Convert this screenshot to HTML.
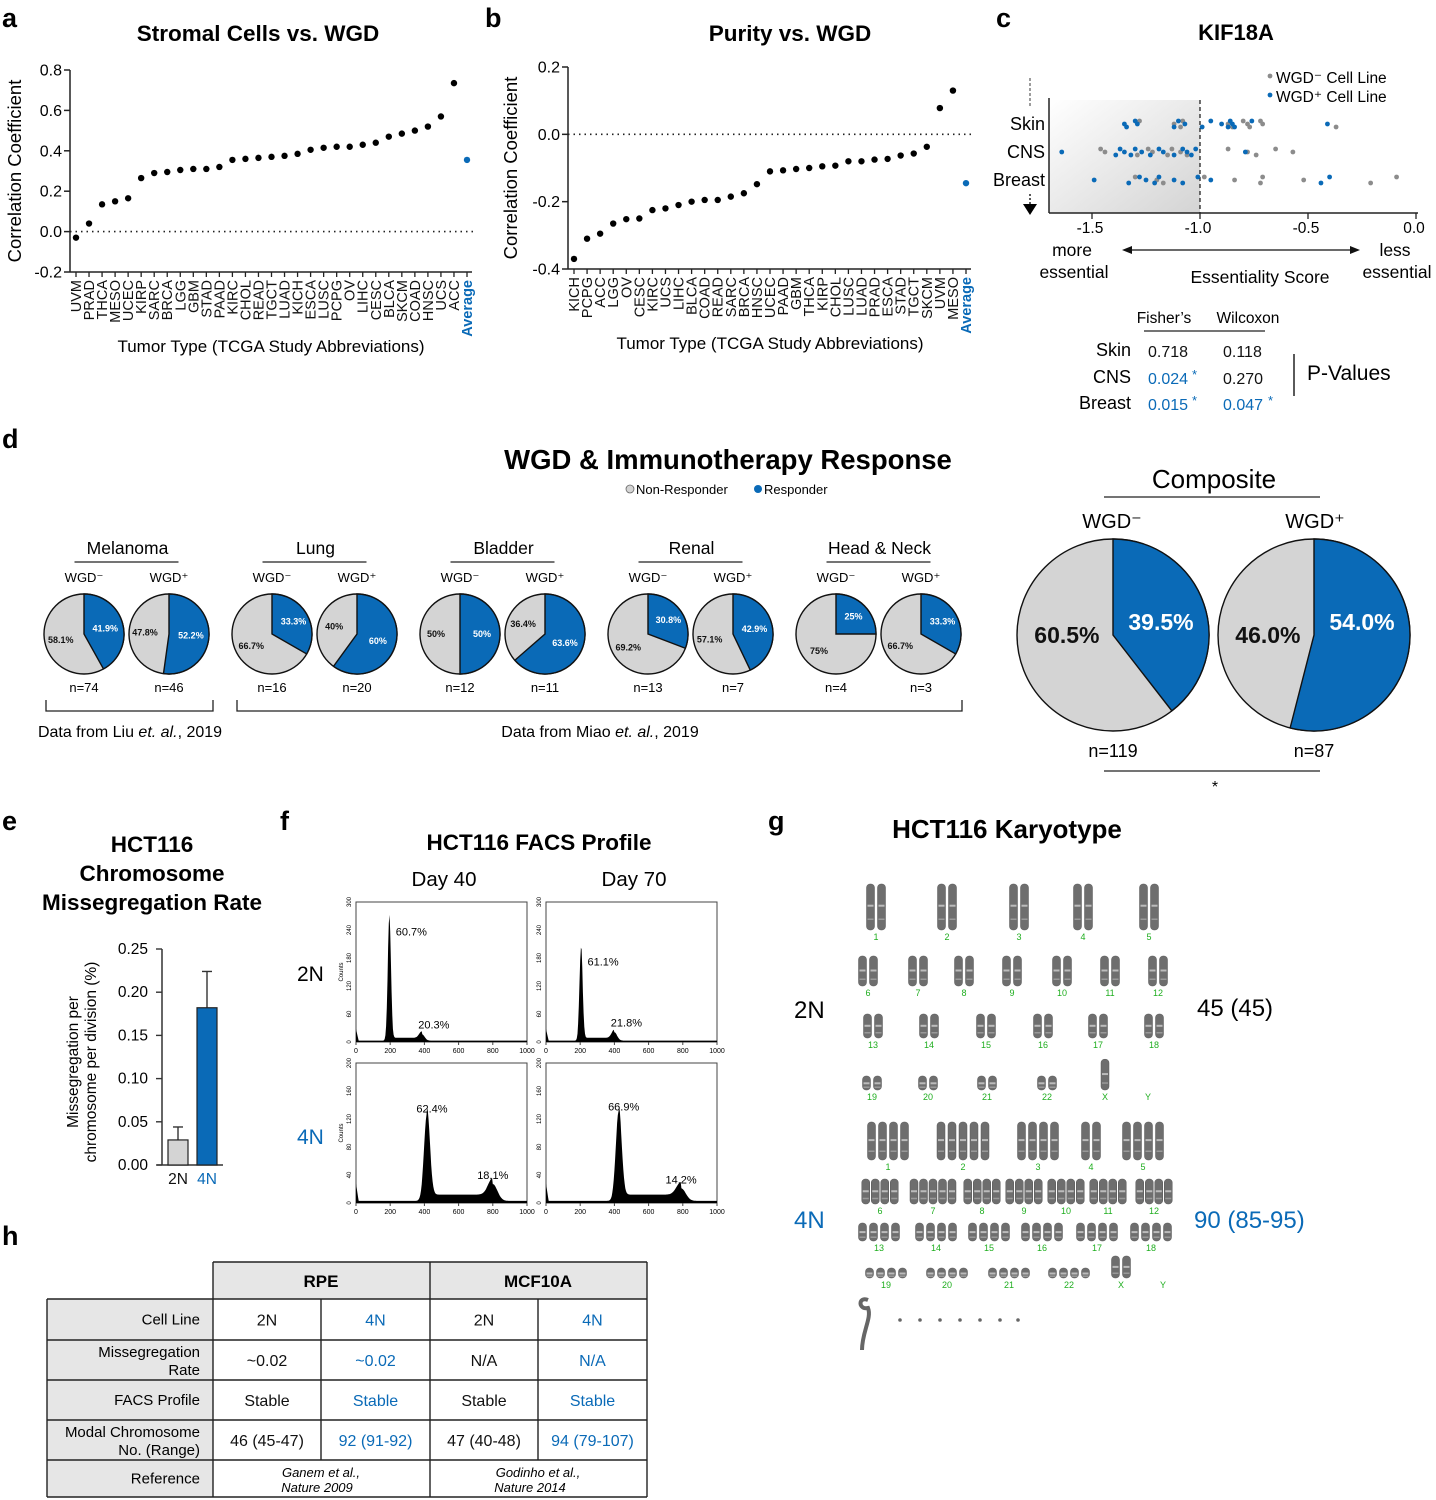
<!DOCTYPE html>
<html><head><meta charset="utf-8"><style>
html,body{margin:0;padding:0;background:#fff;}
svg{display:block;font-family:"Liberation Sans",Arial,sans-serif;}
</style></head><body>
<svg id="fig" xmlns="http://www.w3.org/2000/svg" width="1436" height="1500" viewBox="0 0 1436 1500">
<defs><linearGradient id="shade" x1="0" y1="0" x2="1" y2="1"><stop offset="0" stop-color="#ffffff"/><stop offset="1" stop-color="#d4d4d4"/></linearGradient></defs>
<g font-weight="bold" font-size="27">
<text x="2" y="27">a</text>
<text x="485" y="27">b</text>
<text x="996" y="27">c</text>
<text x="2" y="448">d</text>
<text x="2" y="830">e</text>
<text x="280" y="830">f</text>
<text x="768" y="830">g</text>
<text x="2" y="1245">h</text>
</g>
<g id="pa"></g>
<g id="pb"></g>
<g id="pc"></g>
<g id="pd"></g>
<g id="pe"></g>
<g id="pf"></g>
<g id="pg"></g>
<g id="ph"></g>
</svg>
<script>
const NS="http://www.w3.org/2000/svg";
const BLUE="#0a6ab7";
function mk(tag,parent,attrs,txt){const e=document.createElementNS(NS,tag);for(const k in attrs)e.setAttribute(k,attrs[k]);if(txt!==undefined)e.textContent=txt;parent.appendChild(e);return e;}

// ---- Panel a data ----
const aCategories=["UVM","PRAD","THCA","MESO","UCEC","KIRP","SARC","BRCA","LGG","GBM","STAD","PAAD","KIRC","CHOL","READ","TGCT","LUAD","KICH","ESCA","LUSC","PCPG","OV","LIHC","CESC","BLCA","SKCM","COAD","HNSC","UCS","ACC","Average"];
const aValues=[-0.03,0.04,0.135,0.15,0.165,0.265,0.29,0.295,0.305,0.31,0.31,0.32,0.355,0.36,0.365,0.37,0.375,0.385,0.405,0.415,0.42,0.42,0.43,0.44,0.47,0.485,0.5,0.52,0.57,0.735,0.355];
const aTicks=[0.8,0.6,0.4,0.2,0.0,-0.2];
const aTickLabels=["0.8","0.6","0.4","0.2","0.0","-0.2"];
// ---- Panel b data ----
const bCategories=["KICH","PCPG","ACC","LGG","OV","CESC","KIRC","UCS","LIHC","BLCA","COAD","READ","SARC","BRCA","HNSC","UCEC","PAAD","GBM","THCA","KIRP","CHOL","LUSC","LUAD","PRAD","ESCA","STAD","TGCT","SKCM","UVM","MESO","Average"];
const bValues=[-0.37,-0.31,-0.295,-0.265,-0.252,-0.25,-0.225,-0.22,-0.21,-0.2,-0.195,-0.195,-0.185,-0.175,-0.148,-0.11,-0.107,-0.103,-0.1,-0.095,-0.093,-0.08,-0.08,-0.075,-0.073,-0.063,-0.057,-0.037,0.078,0.13,-0.145];
const bTicks=[0.2,0.0,-0.2,-0.4];
const bTickLabels=["0.2","0.0","-0.2","-0.4"];

function dotChart(g,cfg,cats,vals,ticks,tlabels){
  const y=v=>cfg.y0+(cfg.vmax-v)/(cfg.vmax-cfg.vmin)*(cfg.y1-cfg.y0);
  const x=i=>cfg.x0+i*(cfg.x1-cfg.x0)/(cats.length-1);
  mk("text",g,{x:cfg.tx,y:41,"font-size":22.5,"font-weight":"bold","text-anchor":"middle",},cfg.title);
  mk("line",g,{x1:cfg.ax,y1:cfg.y0,x2:cfg.ax,y2:cfg.y1,stroke:"#222","stroke-width":1.5,});
  mk("line",g,{x1:cfg.ax,y1:cfg.y1,x2:cfg.x1+5,y2:cfg.y1,stroke:"#222","stroke-width":1.5,});
  mk("line",g,{x1:cfg.ax,y1:y(0),x2:cfg.x1+8,y2:y(0),stroke:"#222","stroke-width":1.6,"stroke-dasharray":"1.5 4",});
  ticks.forEach((t,i)=>{
    const tk=mk("line",g,{x1:cfg.ax-6,y1:y(t),x2:cfg.ax,y2:y(t),stroke:"#222","stroke-width":1.5});
    
    
    const tl=mk("text",g,{x:cfg.ax-8,y:y(t)+5.5,"font-size":16,"text-anchor":"end"},tlabels[i]);
    
    
  });
  mk("text",g,{x:0,y:0,"font-size":18.5,"text-anchor":"middle",transform:`translate(${cfg.ylx},${(cfg.y0+cfg.y1)/2}) rotate(-90)`,},"Correlation Coefficient");
  cats.forEach((c,i)=>{
    const avg=c==="Average";
    const tk=mk("line",g,{x1:x(i),y1:cfg.y1,x2:x(i),y2:cfg.y1+5,stroke:"#222","stroke-width":1.3});
    
    
    const t=mk("text",g,{x:0,y:0,"font-size":14.5,"text-anchor":"end",fill:avg?BLUE:"#111","font-weight":avg?"bold":"normal",transform:`translate(${x(i)+5},${cfg.y1+8}) rotate(-90)`},c);
    
    
    const d=mk("circle",g,{cx:x(i),cy:y(vals[i]),r:3.2,fill:avg?BLUE:"#000"});
    
    
  });
  mk("text",g,{x:cfg.xtx,y:cfg.xty,"font-size":17,"text-anchor":"middle",},"Tumor Type (TCGA Study Abbreviations)");
}
dotChart(document.getElementById("pa"),{x0:76,x1:467,ax:70,y0:70,y1:272,vmax:0.8,vmin:-0.2,title:"Stromal Cells vs. WGD",tx:258,ylx:21,xtx:271,xty:352},aCategories,aValues,aTicks,aTickLabels);
dotChart(document.getElementById("pb"),{x0:574,x1:966,ax:568,y0:67,y1:269,vmax:0.2,vmin:-0.4,title:"Purity vs. WGD",tx:790,ylx:517,xtx:770,xty:349},bCategories,bValues,bTicks,bTickLabels);

// ---- Panel c data ----
const cRows=["Skin","CNS","Breast"];
const cGray=[[-1.28,-1.12,-1.09,-1.08,-0.87,-0.85,-0.8,-0.78,-0.77,-0.72,-0.71,-0.37],
 [-1.46,-1.44,-1.29,-1.24,-1.22,-1.15,-1.13,-1.09,-1.06,-0.87,-0.78,-0.74,-0.65,-0.57],
 [-1.3,-1.2,-1.17,-0.98,-0.84,-0.72,-0.71,-0.52,-0.21,-0.09]];
const cBlue=[[-1.35,-1.34,-1.3,-1.29,-1.12,-1.1,-1.07,-0.99,-0.95,-0.9,-0.87,-0.86,-0.85,-0.84,-0.76,-0.41],
 [-1.64,-1.39,-1.37,-1.35,-1.32,-1.3,-1.27,-1.23,-1.19,-1.17,-1.12,-1.08,-1.06,-1.04,-1.02,-0.79],
 [-1.49,-1.33,-1.28,-1.25,-1.21,-1.19,-1.12,-1.08,-1.01,-0.95,-0.44,-0.4]];
const cTicks=[-1.5,-1.0,-0.5,0.0];
const cTickLabels=["-1.5","-1.0","-0.5","0.0"];
(function(){
  const g=document.getElementById("pc");
  const x=v=>1200+(v+1.0)*216;
  const rowY=[124,152,180];
  mk("text",g,{x:1236,y:40,"font-size":22,"font-weight":"bold","text-anchor":"middle",},"KIF18A");
  mk("rect",g,{x:1049,y:100,width:151,height:113,fill:"url(#shade)",});
  mk("line",g,{x1:1049,y1:98,x2:1049,y2:213,stroke:"#222","stroke-width":1.5,});
  mk("line",g,{x1:1049,y1:213,x2:1418,y2:213,stroke:"#222","stroke-width":1.5,});
  mk("line",g,{x1:x(-1),y1:100,x2:x(-1),y2:213,stroke:"#222","stroke-width":1.3,"stroke-dasharray":"4 3",});
  mk("line",g,{x1:1030,y1:78,x2:1030,y2:106,stroke:"#666","stroke-width":1.3,"stroke-dasharray":"3 2",});
  mk("line",g,{x1:1030,y1:194,x2:1030,y2:204,stroke:"#222","stroke-width":1.5,"stroke-dasharray":"2 2",});
  mk("path",g,{d:"M1023,204 L1037,204 L1030,215 Z",fill:"#000",});
  cTicks.forEach((t,i)=>{
    const tk=mk("line",g,{x1:x(t),y1:213,x2:x(t),y2:219,stroke:"#222","stroke-width":1.3});
    
    
    const tl=mk("text",g,{x:x(t)-2,y:233,"font-size":15.5,"text-anchor":"middle"},cTickLabels[i]);
    
    
  });
  cRows.forEach((r,ri)=>{
    const t=mk("text",g,{x:1045,y:rowY[ri]+6,"font-size":18,"text-anchor":"end"},r);
    
    
    cGray[ri].forEach((v,i)=>{
      const d=mk("circle",g,{cx:x(v),cy:rowY[ri]+(i%3-1)*3,r:2.4,fill:"#8c8c8c"});
      
      
    });
    cBlue[ri].forEach((v,i)=>{
      const d=mk("circle",g,{cx:x(v),cy:rowY[ri]+((i+1)%3-1)*3,r:2.4,fill:BLUE});
      
      
    });
  });
  mk("circle",g,{cx:1270,cy:76,r:2.4,fill:"#8c8c8c",});
  mk("text",g,{x:1276,y:83,"font-size":15.5,},"WGD\u207B Cell Line");
  mk("circle",g,{cx:1270,cy:95,r:2.4,fill:BLUE,});
  mk("text",g,{x:1276,y:102,"font-size":15.5,},"WGD\u207A Cell Line");
  const L=[["more",1072,256],["essential",1074,278],["less",1395,256],["essential",1397,278],["Essentiality Score",1260,283]];
  L.forEach(l=>{const t=mk("text",g,{x:l[1],y:l[2],"font-size":17.5,"text-anchor":"middle"},l[0]);});
  mk("line",g,{x1:1126,y1:250,x2:1356,y2:250,stroke:"#111","stroke-width":1.3,});
  mk("path",g,{d:"M1122,250 L1132,246 L1132,254Z M1360,250 L1350,246 L1350,254Z",fill:"#111",});
  const tg=mk("g",g,{});
  mk("text",tg,{x:1164,y:323,"font-size":15.5,"text-anchor":"middle"},"Fisher\u2019s");
  mk("text",tg,{x:1248,y:323,"font-size":15.5,"text-anchor":"middle"},"Wilcoxon");
  mk("line",tg,{x1:1144,y1:331,x2:1265,y2:331,stroke:"#222","stroke-width":1.3});
  const rows=[["Skin","0.718","0.118",false,false,356],["CNS","0.024","0.270",true,false,383],["Breast","0.015","0.047",true,true,409]];
  rows.forEach(r=>{
    mk("text",tg,{x:1131,y:r[5],"font-size":18,"text-anchor":"end"},r[0]);
    mk("text",tg,{x:1148,y:r[5]+1,"font-size":16,fill:r[3]?BLUE:"#111"},r[1]);
    if(r[3])mk("text",tg,{x:1192,y:r[5]-4,"font-size":13,fill:BLUE},"*");
    mk("text",tg,{x:1223,y:r[5]+1,"font-size":16,fill:r[4]?BLUE:"#111"},r[2]);
    if(r[4])mk("text",tg,{x:1268,y:r[5]-4,"font-size":13,fill:BLUE},"*");
  });
  mk("line",tg,{x1:1294,y1:354,x2:1294,y2:396,stroke:"#222","stroke-width":1.5});
  mk("text",tg,{x:1307,y:380,"font-size":21},"P-Values");
})();

// ---- Panel d data ----
const dGroups=["Melanoma","Lung","Bladder","Renal","Head & Neck"];
const dRespNeg=[41.9,33.3,50,30.8,25];
const dRespPos=[52.2,60,63.6,42.9,33.3];
const dNNeg=[74,16,12,13,4];
const dNPos=[46,20,11,7,3];
const dComposite=[39.5,54.0];
const dCompositeN=[119,87];
function pie(g,cx,cy,r,pct,fs,name,composite){
  const gg=mk("g",g,{});
  
  
  mk("circle",gg,{cx:cx,cy:cy,r:r,fill:"#d4d4d4",stroke:"#111","stroke-width":1.4});
  const a=pct/100*2*Math.PI;
  const ex=cx+r*Math.sin(a),ey=cy-r*Math.cos(a);
  const large=pct>50?1:0;
  const sl=mk("path",gg,{d:`M${cx},${cy} L${cx},${cy-r} A${r},${r} 0 ${large} 1 ${ex},${ey} Z`,fill:BLUE,stroke:"#111","stroke-width":1.4});
  
  
  const fmt=v=>(Math.round(v*10)/10).toString();
  const lab=v=>(composite?v.toFixed(1):fmt(v))+"%";
  let bx,by,gx,gy;
  if(composite){bx=cx+0.5*r;by=cy-5;gx=cx-0.48*r;gy=cy+8;}
  else{
    const rb=r*(pct<35?0.62:0.55),rg=r*0.6;
    const ma=a/2, mg=a+(2*Math.PI-a)/2;
    bx=cx+rb*Math.sin(ma);by=cy-rb*Math.cos(ma)+fs/3;gx=cx+rg*Math.sin(mg);gy=cy-rg*Math.cos(mg)+fs/3;
  }
  mk("text",gg,{x:bx,y:by,"font-size":fs,"font-weight":"bold","text-anchor":"middle",fill:"#fff"},lab(pct));
  mk("text",gg,{x:gx,y:gy,"font-size":fs,"font-weight":"bold","text-anchor":"middle",fill:"#111"},lab(100-pct));
}
(function(){
  const g=document.getElementById("pd");
  mk("text",g,{x:728,y:469,"font-size":27.5,"font-weight":"bold","text-anchor":"middle",},"WGD & Immunotherapy Response");
  mk("circle",g,{cx:630,cy:489,r:4,fill:"#d4d4d4",stroke:"#666","stroke-width":0.8,});
  mk("text",g,{x:636,y:494,"font-size":13,},"Non-Responder");
  mk("circle",g,{cx:758,cy:489,r:4,fill:BLUE,});
  mk("text",g,{x:764,y:494,"font-size":13,},"Responder");
  dGroups.forEach((grp,i)=>{
    const c1=84+i*188,c2=169+i*188,mid=(c1+c2)/2;
    const t=mk("text",g,{x:mid+1,y:554,"font-size":17.5,"text-anchor":"middle"},grp);
    
    
    mk("line",g,{x1:mid-52,y1:562,x2:mid+52,y2:562,stroke:"#222","stroke-width":1.3});
    mk("text",g,{x:c1,y:582,"font-size":13,"text-anchor":"middle"},"WGD\u207B");
    mk("text",g,{x:c2,y:582,"font-size":13,"text-anchor":"middle"},"WGD\u207A");
    pie(g,c1,634,40,dRespNeg[i],9,"pie-wgd-neg",false);
    pie(g,c2,634,40,dRespPos[i],9,"pie-wgd-pos",false);
    mk("text",g,{x:c1,y:692,"font-size":13,"text-anchor":"middle"},"n="+dNNeg[i]);
    mk("text",g,{x:c2,y:692,"font-size":13,"text-anchor":"middle"},"n="+dNPos[i]);
  });
  mk("path",g,{d:"M46,700 V711 H213 V700",fill:"none",stroke:"#222","stroke-width":1.3,});
  mk("path",g,{d:"M237,700 V711 H962 V700",fill:"none",stroke:"#222","stroke-width":1.3,});
  const t1=mk("text",g,{x:130,y:737,"font-size":16,"text-anchor":"middle",});
  t1.innerHTML='Data from Liu <tspan font-style="italic">et. al.</tspan>, 2019';
  const t2=mk("text",g,{x:600,y:737,"font-size":16,"text-anchor":"middle",});
  t2.innerHTML='Data from Miao <tspan font-style="italic">et. al.</tspan>, 2019';
  mk("text",g,{x:1214,y:488,"font-size":26,"text-anchor":"middle",},"Composite");
  mk("line",g,{x1:1104,y1:497,x2:1320,y2:497,stroke:"#222","stroke-width":1.3});
  mk("text",g,{x:1112,y:528,"font-size":20,"text-anchor":"middle"},"WGD\u207B");
  mk("text",g,{x:1315,y:528,"font-size":20,"text-anchor":"middle"},"WGD\u207A");
  pie(g,1113,635,96,dComposite[0],23,"composite-pie-wgd-neg",true);
  pie(g,1314,635,96,dComposite[1],23,"composite-pie-wgd-pos",true);
  mk("text",g,{x:1113,y:757,"font-size":18,"text-anchor":"middle"},"n="+dCompositeN[0]);
  mk("text",g,{x:1314,y:757,"font-size":18,"text-anchor":"middle"},"n="+dCompositeN[1]);
  mk("line",g,{x1:1104,y1:771,x2:1320,y2:771,stroke:"#222","stroke-width":1.3});
  mk("text",g,{x:1215,y:792,"font-size":16,"text-anchor":"middle"},"*");
})();

// ---- Panel e data ----
const eCategories=["2N","4N"];
const eValues=[0.029,0.182];
const eErrors=[0.015,0.042];
const eTicks=[0,0.05,0.1,0.15,0.2,0.25];
const eTickLabels=["0.00","0.05","0.10","0.15","0.20","0.25"];
(function(){
  const g=document.getElementById("pe");
  const y=v=>1165-v/0.25*216;
  const bx=[168,197];
  ["HCT116","Chromosome","Missegregation Rate"].forEach((s,i)=>mk("text",g,{x:152,y:852+i*29,"font-size":22.5,"font-weight":"bold","text-anchor":"middle",},s));
  mk("line",g,{x1:162,y1:949,x2:162,y2:1165,stroke:"#333","stroke-width":1.5,});
  mk("line",g,{x1:157,y1:1165,x2:223,y2:1165,stroke:"#333","stroke-width":1.5,});
  eTicks.forEach((t,i)=>{
    const tk=mk("line",g,{x1:156,y1:y(t),x2:162,y2:y(t),stroke:"#333","stroke-width":1.4});
    
    
    const tl=mk("text",g,{x:148,y:y(t)+5,"font-size":15.5,"text-anchor":"end"},eTickLabels[i]);
    
    
  });
  mk("text",g,{x:0,y:0,"font-size":15.5,"text-anchor":"middle",transform:"translate(78,1062) rotate(-90)",},"Missegregation per");
  mk("text",g,{x:0,y:0,"font-size":15.5,"text-anchor":"middle",transform:"translate(96,1062) rotate(-90)",},"chromosome per division (%)");
  eCategories.forEach((c,i)=>{
    const e=mk("line",g,{x1:bx[i]+10,y1:y(eValues[i]),x2:bx[i]+10,y2:y(eValues[i]+eErrors[i]),stroke:"#333","stroke-width":1.4});
    
    
    mk("line",g,{x1:bx[i]+5,y1:y(eValues[i]+eErrors[i]),x2:bx[i]+15,y2:y(eValues[i]+eErrors[i]),stroke:"#333","stroke-width":1.4});
    const b=mk("rect",g,{x:bx[i],y:y(eValues[i]),width:20,height:1165-y(eValues[i]),fill:i?BLUE:"#d4d4d4",stroke:"#222","stroke-width":1.2});
    
    
    const t=mk("text",g,{x:bx[i]+10,y:1184,"font-size":15.5,"text-anchor":"middle",fill:i?BLUE:"#111"},c);
    
    
  });
})();

// ---- Panel f data: peaks [center(DNA content), height(counts)] ----
const fPanels=["2N Day 40","2N Day 70","4N Day 40","4N Day 70"];
const fPeak1Center=[195,205,415,425];
const fPeak1Height=[265,200,125,128];
const fPeak2Center=[385,400,800,790];
const fPeak2Height=[14,18,24,18];
const fYMax=[300,300,200,200];
const fLabels1=["60.7%","61.1%","62.4%","66.9%"];
const fLabels2=["20.3%","21.8%","18.1%","14.2%"];
(function(){
  const g=document.getElementById("pf");
  mk("text",g,{x:539,y:850,"font-size":22.5,"font-weight":"bold","text-anchor":"middle",},"HCT116 FACS Profile");
  mk("text",g,{x:444,y:886,"font-size":20.5,"text-anchor":"middle",},"Day 40");
  mk("text",g,{x:634,y:886,"font-size":20.5,"text-anchor":"middle",},"Day 70");
  mk("text",g,{x:297,y:981,"font-size":21,},"2N");
  mk("text",g,{x:297,y:1144,"font-size":21,fill:BLUE,},"4N");
  const frames=[[356,902],[546,902],[356,1063],[546,1063]];
  fPanels.forEach((p,k)=>{
    const [fx,fy]=frames[k];const W=171,H=140;
    const gg=mk("g",g,{});
    
    
    const X=v=>fx+v/1000*W, Y=c=>fy+H-c/fYMax[k]*H;
    mk("rect",gg,{x:fx,y:fy,width:W,height:H,fill:"none",stroke:"#444","stroke-width":1});
    const w1=k<2?13:24,w2=k<2?22:38;
    let d=`M${X(0)},${Y(0)}`;
    for(let v=0;v<=1000;v+=4){
      let c=3+(v<15?25*(1-v/15):0)+(v>fPeak1Center[k]&&v<fPeak2Center[k]?(k<2?6:9):0);
      c+=fPeak1Height[k]*Math.exp(-Math.pow((v-fPeak1Center[k])/w1,2));
      c+=fPeak2Height[k]*Math.exp(-Math.pow((v-fPeak2Center[k])/w2,2));
      d+=` L${X(v).toFixed(1)},${Y(Math.min(c,fYMax[k])).toFixed(1)}`;
    }
    d+=` L${X(1000)},${Y(0)} Z`;
    const hp=mk("path",gg,{d:d,fill:"#000"});
    
    
    [0,200,400,600,800,1000].forEach(t=>{mk("line",gg,{x1:X(t),y1:fy+H,x2:X(t),y2:fy+H+3,stroke:"#444"});mk("text",gg,{x:X(t),y:fy+H+11,"font-size":7,"text-anchor":"middle"},t);});
    const yt=k<2?[0,60,120,180,240,300]:[0,40,80,120,160,200];
    yt.forEach(t=>{mk("text",gg,{x:0,y:0,"font-size":6,"text-anchor":"middle",transform:`translate(${fx-5},${Y(t)}) rotate(-90)`},t);});
    if(k%2==0)mk("text",gg,{x:0,y:0,"font-size":6,"text-anchor":"middle",transform:`translate(${fx-13},${fy+H/2}) rotate(-90)`},"Counts");
    mk("text",gg,{x:X(fPeak1Center[k])+(k<2?22:5),y:Y(Math.min(fPeak1Height[k],fYMax[k]))+(k<2?17:-3),"font-size":11,"text-anchor":"middle"},fLabels1[k]);
    mk("text",gg,{x:X(fPeak2Center[k])+(k<2?12:0),y:Y(fPeak2Height[k])-7,"font-size":11,"text-anchor":"middle"},fLabels2[k]);
  });
})();

// ---- Panel g data ----
const gLabels2N=[["1","2","3","4","5"],["6","7","8","9","10","11","12"],["13","14","15","16","17","18"],["19","20","21","22","X","Y"]];
const gLabelX2N=[[876,947,1019,1083,1149],[868,918,964,1012,1062,1110,1158],[873,929,986,1043,1098,1154],[872,928,987,1047,1105,1148]];
const gLabelY2N=[940,996,1048,1100];
const gChromH2N=[46,30,24,14];
const gLabelX4N=[[888,963,1038,1091,1143],[880,933,982,1024,1066,1108,1154],[879,936,989,1042,1097,1151],[886,947,1009,1069,1121,1163]];
const gLabelY4N=[1170,1214,1251,1288];
const gChromH4N=[38,25,18,10];
const gCount4N=[[4,5,4,2,4],[4,5,4,4,4,4,4],[4,4,4,4,4,4],[4,4,4,4,2,0]];
(function(){
  const g=document.getElementById("pg");
  mk("text",g,{x:1007,y:838,"font-size":26,"font-weight":"bold","text-anchor":"middle",},"HCT116 Karyotype");
  mk("text",g,{x:794,y:1018,"font-size":24,},"2N");
  mk("text",g,{x:794,y:1228,"font-size":24,fill:BLUE,},"4N");
  mk("text",g,{x:1197,y:1016,"font-size":24,},"45 (45)");
  mk("text",g,{x:1194,y:1228,"font-size":24,fill:BLUE,},"90 (85-95)");
  function draw(labels,lx,ly,hs,counts,sp){
    labels.forEach((row,ri)=>row.forEach((lab,ci)=>{
      const n=counts?counts[ri][ci]:(lab==="Y"?0:(lab==="X"?1:2));
      const h=hs[ri]*(lab==="X"&&ri===3?2.2:1);
      const cx=lx[ri][ci];
      const s=counts&&ri===1?9.5:sp;
      for(let j=0;j<n;j++){
        const x=cx-(n-1)*s/2+j*s-4;
        const c=mk("rect",g,{x:x,y:ly[ri]-10-h,width:8,height:h,rx:3.5,fill:"#4a4a4a",stroke:"#333","stroke-width":0.5,opacity:0.8});
        
        
        mk("rect",g,{x:x+1,y:ly[ri]-10-h*0.55,width:6,height:2,fill:"#bbb"});
        mk("rect",g,{x:x+1,y:ly[ri]-10-h*0.25,width:6,height:1.5,fill:"#999"});
      }
      const t=mk("text",g,{x:cx,y:ly[ri],"font-size":9,fill:"#1fae1f","text-anchor":"middle"},lab);
      
      
    }));
  }
  draw(gLabels2N,gLabelX2N,gLabelY2N,gChromH2N,null,11);
  draw(gLabels2N,gLabelX4N,gLabelY4N,gChromH4N,gCount4N,11);
  mk("path",g,{d:"M868,1300 C858,1296 858,1310 868,1308 C872,1318 862,1332 862,1350",fill:"none",stroke:"#666","stroke-width":4,});
  [900,920,940,960,980,1000,1018].forEach(x=>mk("circle",g,{cx:x,cy:1320,r:1.8,fill:"#666"}));
})();

// ---- Panel h table ----
(function(){
  const g=document.getElementById("ph");
  const cols=[47,213,321,430,538,647];
  const rows=[1262,1299,1340,1380,1420,1460,1497];
  mk("rect",g,{x:213,y:1262,width:434,height:37,fill:"#e6e6e6",});
  for(let r=1;r<6;r++)mk("rect",g,{x:47,y:rows[r],width:166,height:rows[r+1]-rows[r],fill:"#e6e6e6"});
  mk("path",g,{d:"M213,1262 H647 M47,1299 H647 M47,1340 H647 M47,1380 H647 M47,1420 H647 M47,1460 H647 M47,1497 H647 M47,1299 V1497 M213,1262 V1497 M430,1262 V1497 M647,1262 V1497 M321,1299 V1460 M538,1299 V1460",stroke:"#222","stroke-width":1.4,fill:"none",});
  mk("text",g,{x:321,y:1287,"font-size":17,"font-weight":"bold","text-anchor":"middle"},"RPE");
  mk("text",g,{x:538,y:1287,"font-size":17,"font-weight":"bold","text-anchor":"middle"},"MCF10A");
  const labels=[["Cell Line"],["Missegregation","Rate"],["FACS Profile"],["Modal Chromosome","No. (Range)"],["Reference"]];
  const vals=[["2N","4N","2N","4N"],["~0.02","~0.02","N/A","N/A"],["Stable","Stable","Stable","Stable"],["46 (45-47)","92 (91-92)","47 (40-48)","94 (79-107)"]];
  labels.forEach((l,i)=>{
    const yc=(rows[i+1]+rows[i+2])/2;
    if(l.length===1)mk("text",g,{x:200,y:yc+5,"font-size":15,"text-anchor":"end"},l[0]);
    else{mk("text",g,{x:200,y:yc-3,"font-size":15,"text-anchor":"end"},l[0]);mk("text",g,{x:200,y:yc+15,"font-size":15,"text-anchor":"end"},l[1]);}
  });
  vals.forEach((row,i)=>{
    const yc=(rows[i+1]+rows[i+2])/2;
    row.forEach((v,j)=>{
      const t=mk("text",g,{x:(cols[j+1]+cols[j+2])/2,y:yc+6,"font-size":16,"text-anchor":"middle",fill:j%2?BLUE:"#111"},v);
      
      
    });
  });
  mk("text",g,{x:321,y:1477,"font-size":13,"font-style":"italic","text-anchor":"middle"},"Ganem et al.,");
  mk("text",g,{x:317,y:1492,"font-size":13,"font-style":"italic","text-anchor":"middle"},"Nature 2009");
  mk("text",g,{x:538,y:1477,"font-size":13,"font-style":"italic","text-anchor":"middle"},"Godinho et al.,");
  mk("text",g,{x:530,y:1492,"font-size":13,"font-style":"italic","text-anchor":"middle"},"Nature 2014");
})();
</script>
</body></html>
